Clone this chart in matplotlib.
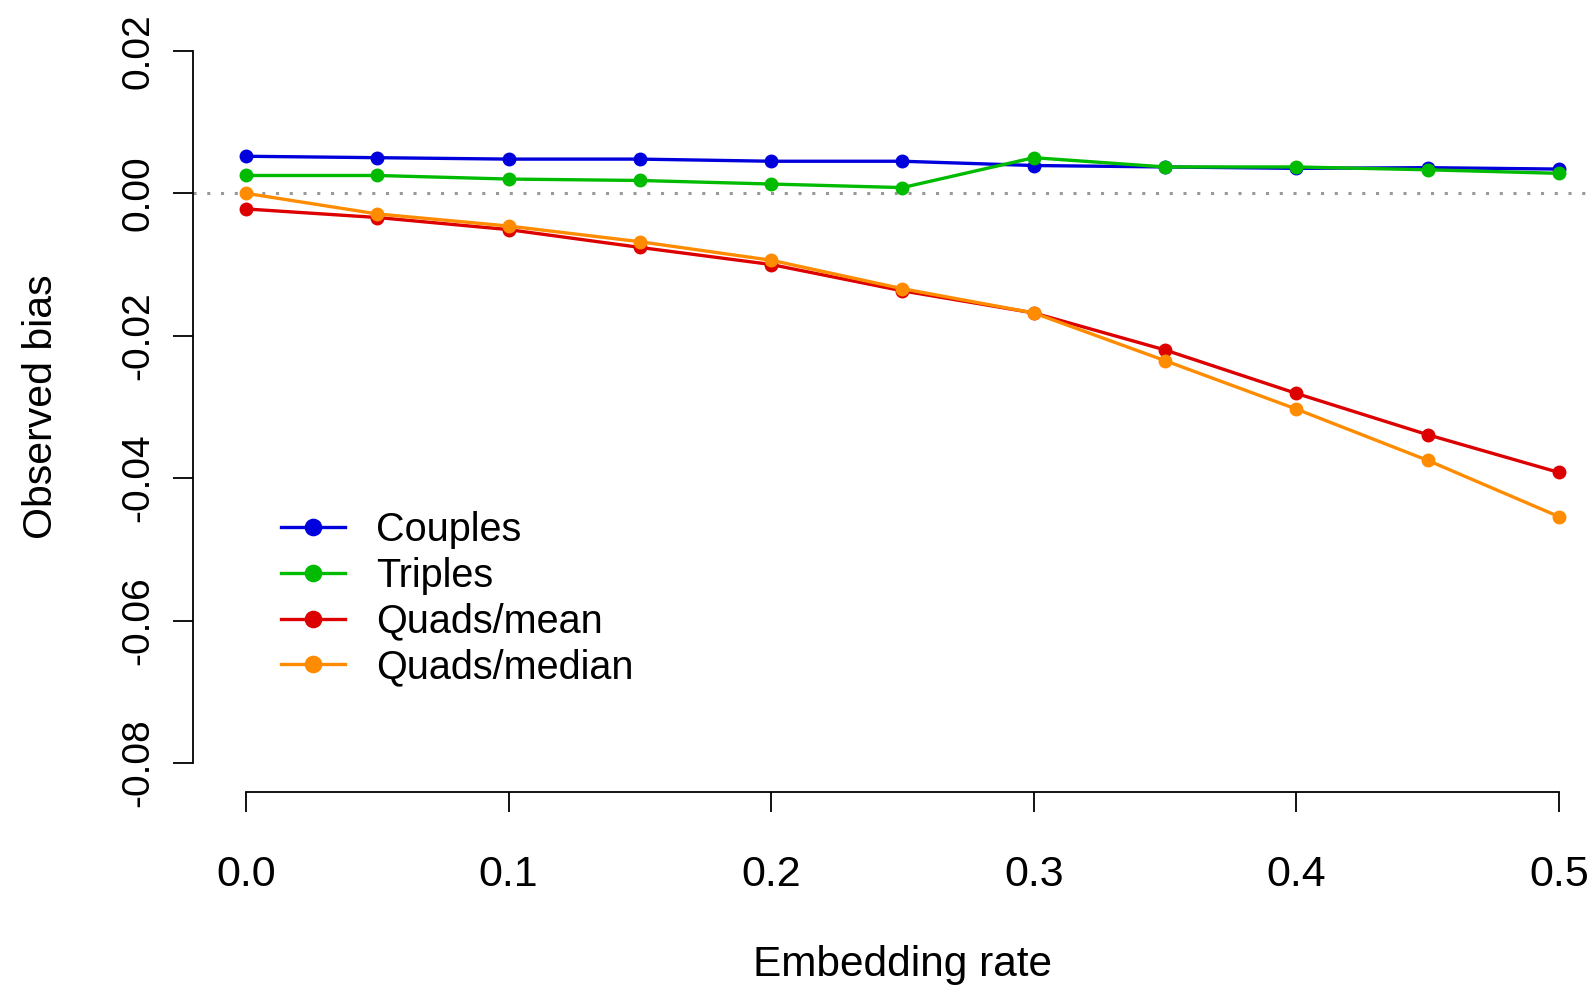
import matplotlib
matplotlib.use("agg")
import matplotlib.pyplot as plt

plt.rcParams['font.family'] = ['Liberation Sans', 'DejaVu Sans']

# data
rate = [0.0, 0.05, 0.1, 0.15, 0.2, 0.25, 0.3, 0.35, 0.4, 0.45, 0.5]
couples = [0.0052, 0.0050, 0.0048, 0.0048, 0.0045, 0.0045, 0.0039, 0.0037, 0.0035, 0.0036, 0.0034]
triples = [0.0025, 0.0025, 0.0020, 0.0018, 0.0013, 0.0008, 0.0050, 0.0037, 0.0037, 0.0033, 0.0028]
quads_mean = [-0.0022, -0.0034, -0.0051, -0.0076, -0.0100, -0.0137, -0.0168, -0.0220, -0.0281, -0.0339, -0.0392]
quads_median = [0.0, -0.0029, -0.0046, -0.0068, -0.0094, -0.0134, -0.0168, -0.0235, -0.0303, -0.0375, -0.0454]

series = ["Couples", "Triples", "Quads/mean", "Quads/median"]
colors = ["#0000DD", "#00BB00", "#DD0000", "#FF8C00"]
xticks = [0.0, 0.1, 0.2, 0.3, 0.4, 0.5]
yticks = [-0.08, -0.06, -0.04, -0.02, 0.00, 0.02]

fig = plt.figure(figsize=(15.95, 9.9), dpi=100)
ax = fig.add_axes([0.1213, 0.2005, 0.889, 0.7769])

ax.axhline(0, color="#999999", lw=2.2, ls=(0, (1, 3.5)), zorder=1)

for vals, name, c in zip([couples, triples, quads_mean, quads_median], series, colors):
    ax.plot(rate, vals, color=c, lw=2.4, marker="o", ms=9, label=name, zorder=3)

# R style axes
ax.set_xlim(-0.02, 0.52)
ax.set_ylim(-0.084, 0.024)
for s in ["top", "right"]:
    ax.spines[s].set_visible(False)
ax.spines["left"].set_bounds(-0.08, 0.02)
ax.spines["bottom"].set_bounds(0.0, 0.5)
ax.spines["left"].set_linewidth(1.3)
ax.spines["bottom"].set_linewidth(1.3)

ax.set_xticks(xticks)
ax.set_xticklabels(["%.1f" % v for v in xticks])
ax.set_yticks(yticks)
ax.set_yticklabels(["%.2f" % v for v in yticks], rotation=90, va="center")
ax.tick_params(axis="x", length=14.5, width=1.3, labelsize=31, pad=31)
ax.tick_params(axis="y", length=14.5, width=1.3, labelsize=28, pad=12)

ax.set_xlabel("Embedding rate", fontsize=30.5, labelpad=36)
ax.set_ylabel("Observed bias", fontsize=29.5, labelpad=44)

ax.legend(loc="upper left", bbox_to_anchor=(0.048, 0.39), frameon=False,
          fontsize=28.5, handlelength=1.6, handletextpad=0.8, labelspacing=0.19,
          markerscale=1.3, borderpad=0)

fig.savefig("out.png", dpi=100)
